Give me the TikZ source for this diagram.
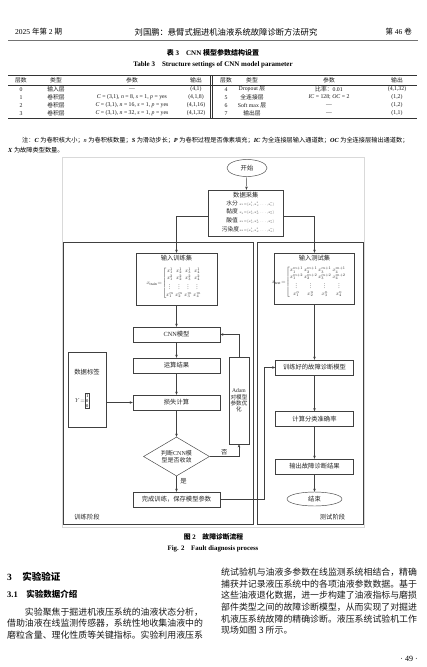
\RequirePackage{fix-cm}
\documentclass[tikz,border=0pt]{standalone}
\usepackage{graphicx}
\usepackage{fontspec}
\setmainfont{Liberation Serif}
\newfontfamily\cjk{Noto Sans CJK SC}
\usetikzlibrary{shapes.geometric,arrows.meta}
\newcommand\zh[1]{{\cjk #1}}
\newcommand\fsz[1]{\fontsize{#1}{#1}\selectfont}
\newcommand\dvec[1]{\scalebox{0.52}{$x_#1\!=\![x_#1^1{,}x_#1^2{,}\ldots{,}x_#1^n]$}}
\tikzset{
  fbox/.style={draw=black!75, line width=0.45pt, inner sep=0pt, font=\cjk\fsz{6.3}, text=black!85},
  ftxt/.style={font=\cjk\fsz{6.3}, text=black!85, inner sep=0pt},
  farr/.style={draw=black!75, line width=0.45pt, -{Stealth[length=3.2pt,width=2.6pt]}},
  tcell/.style={font=\fsz{5.8}, inner sep=0pt, text=black!90},
  body/.style={font=\cjk\fsz{8.9}, anchor=west, inner sep=0pt, text=black!90},
  mat/.style={font=\fontsize{10}{12}\selectfont, inner sep=0pt, text=black!85},
  dline/.style={font=\cjk\fsz{5.8}, inner sep=0pt, text=black!85, anchor=east},
}
\begin{document}
\begin{tikzpicture}[x=1pt,y=-1pt]
\useasboundingbox (0,0) rectangle (427,667);
\fill[white] (0,0) rectangle (427,667);

% ---------- running head ----------
\node[anchor=west, font=\fsz{7.5}, inner sep=0pt] (hl) at (15,32) {2025 \zh{年第} 2 \zh{期}};
\node[font=\cjk\fsz{8.3}, inner sep=0pt] (ht) at (226,32) {刘国鹏：悬臂式掘进机油液系统故障诊断方法研究};
\node[anchor=east, font=\fsz{7.5}, inner sep=0pt] (hr) at (412,32) {\zh{第} 46 \zh{卷}};
\draw[line width=1pt, black!55] (8,40) -- (418,40);

% ---------- table ----------
\node[font=\bfseries\fsz{7}, inner sep=0pt] (tc1) at (213,53) {\zh{表} 3\hspace{1em}CNN \zh{模型参数结构设置}};
\node[font=\bfseries\fsz{7}, inner sep=0pt] (tc2) at (213,65) {Table 3\hspace{1em}Structure settings of CNN model parameter};
\draw[line width=0.8pt, black!80] (8,75.7) -- (417,75.7);
\draw[line width=0.4pt, black!80] (8,85) -- (417,85);
\draw[line width=0.8pt, black!80] (8,118.5) -- (417,118.5);
\draw[line width=0.4pt, black!80] (210.2,75.7) -- (210.2,118.5);
\draw[line width=0.4pt, black!80] (212.6,75.7) -- (212.6,118.5);

\foreach \x/\t [count=\i] in {21/层数,56/类型,132/参数,196/输出,226/层数,252/类型,329/参数,397/输出}
  \node[tcell, font=\cjk\fsz{5.8}] (th\i) at (\x,80) {\t};

\foreach \y/\n/\a/\b/\c/\d/\e/\f/\g/\h in {
  89.3/0/0/{\zh{输入层}}/{---}/{(4,1)}/4/{Dropout \zh{层}}/{\zh{比率：}0.01}/{(4,1,32)},
  97.3/1/1/{\zh{卷积层}}/{\textit{C} = (3,1), \textit{n} = 8, \textit{s} = 1, \textit{p} = yes}/{(4,1,8)}/5/{\zh{全连接层}}/{\textit{IC} = 128; \textit{OC} = 2}/{(1,2)},
  105.3/2/2/{\zh{卷积层}}/{\textit{C} = (3,1), \textit{n} = 16, \textit{s} = 1, \textit{p} = yes}/{(4,1,16)}/6/{Soft max \zh{层}}/{---}/{(1,2)},
  113.3/3/3/{\zh{卷积层}}/{\textit{C} = (3,1), \textit{n} = 32, \textit{s} = 1, \textit{p} = yes}/{(4,1,32)}/7/{\zh{输出层}}/{---}/{(1,1)}}
{
  \node[tcell] (ra\n) at (21,\y) {\a};
  \node[tcell] (rb\n) at (56,\y) {\b};
  \node[tcell] (rc\n) at (132,\y) {\c};
  \node[tcell] (rd\n) at (196,\y) {\d};
  \node[tcell] (re\n) at (226,\y) {\e};
  \node[tcell] (rf\n) at (252,\y) {\f};
  \node[tcell] (rg\n) at (329,\y) {\g};
  \node[tcell] (rh\n) at (397,\y) {\h};
}

\node[anchor=west, font=\fsz{6.2}, inner sep=0pt] (note1) at (22,140) {\zh{注：}\textbf{\textit{C}} \zh{为卷积核大小；}\textit{n} \zh{为卷积核数量；}\textbf{\textit{S}} \zh{为滑动步长；}\textbf{\textit{P}} \zh{为卷积过程是否像素填充；}\textbf{\textit{IC}} \zh{为全连接层输入通道数；}\textbf{\textit{OC}} \zh{为全连接层输出通道数；}};
\node[anchor=west, font=\fsz{6.2}, inner sep=0pt] (note2) at (8,150) {\textbf{\textit{X}} \zh{为故障类型数量。}};

% ---------- figure ----------
\draw[black!15, line width=0.4pt] (62,157) rectangle (364,527);

\node[fbox, minimum width=190pt, minimum height=282pt] (trainph) at (158,383) {};
\node[fbox, minimum width=106pt, minimum height=282pt] (testph) at (310,383) {};
\node[ftxt] (trainL) at (87,517) {训练阶段};
\node[ftxt] (testL) at (332.5,517) {测试阶段};

\node[fbox, ellipse, minimum width=40pt, minimum height=17pt] (start) at (247,168) {开始};
\node[fbox, minimum width=75pt, minimum height=46pt] (collect) at (245.8,213) {};
\node[ftxt] (collectT) at (245.8,195.5) {数据采集};
\node[dline] (c1) at (274,203.3) {水分 \dvec{1}};
\node[dline] (c2) at (274,211.8) {黏度 \dvec{2}};
\node[dline] (c3) at (274,220.5) {酸值 \dvec{3}};
\node[dline] (c4) at (274,229.2) {污染度\dvec{4}};

% training column
\node[fbox, minimum width=81pt, minimum height=52pt] (trin) at (176.5,279) {};
\node[ftxt] (trinT) at (176.5,258.5) {输入训练集};
\node[mat] (trinM) at (174,283) {\scalebox{0.55}{\setlength\arraycolsep{1.6pt}$x_{\mathrm{train}}\!=\!\left[\begin{array}{@{}cccc@{}}
 x_1^1&x_2^1&x_3^1&x_4^1\\ x_1^2&x_2^2&x_3^2&x_4^2\\ \vdots&\vdots&\vdots&\vdots\\ x_1^m&x_2^m&x_3^m&x_4^m\end{array}\right.$}};
\node[fbox, minimum width=87pt, minimum height=15pt] (cnn) at (176.5,334.5) {{\rmfamily CNN}模型};
\node[fbox, minimum width=87pt, minimum height=15pt] (calc) at (176.5,365.5) {运算结果};
\node[fbox, minimum width=87pt, minimum height=15pt] (loss) at (176.5,402.5) {损失计算};
\node[fbox, diamond, aspect=1.7, minimum width=66pt, minimum height=39pt, align=center, font=\cjk\fontsize{6}{7}\selectfont] (judge) at (176.5,456.5) {判断{\rmfamily CNN}模\\型是否收敛};
\node[fbox, minimum width=87pt, minimum height=15pt] (done) at (176.5,499.5) {完成训练，保存模型参数};

\node[fbox, minimum width=38pt, minimum height=75pt] (label) at (87,389.5) {};
\node[ftxt] (labelT) at (87,372) {数据标签};
\node[mat] (labelY) at (80,401) {\scalebox{0.58}{$Y\!=$}};
\node[draw=black!75, line width=0.4pt, inner sep=0.8pt, font=\fontsize{4.5}{5}\selectfont, align=center] (vec) at (87.2,401) {1\\0\\0};

\node[fbox, minimum width=20pt, minimum height=87pt, align=center, font=\cjk\fontsize{5.6}{6.4}\selectfont] (adam) at (239,400.5) {{\rmfamily Adam}\\对模型\\参数优\\化};

% test column
\node[fbox, minimum width=80pt, minimum height=51pt] (tein) at (314.5,278.5) {};
\node[ftxt] (teinT) at (314.5,258.5) {输入测试集};
\node[mat] (teinM) at (309,282) {\scalebox{0.55}{\setlength\arraycolsep{1.2pt}$x_{\mathrm{test}}\!=\!\left[\begin{array}{@{}cccc@{}}
 x_1^{m+1}&x_2^{m+1}&x_3^{m+1}&x_4^{m+1}\\ x_1^{m+2}&x_2^{m+2}&x_3^{m+2}&x_4^{m+2}\\ \vdots&\vdots&\vdots&\vdots\\ x_1^n&x_2^n&x_3^n&x_4^n\end{array}\right.$}};
\node[fbox, minimum width=78pt, minimum height=15pt] (trained) at (314.5,367.5) {训练好的故障诊断模型};
\node[fbox, minimum width=78pt, minimum height=15pt] (acc) at (314.5,419) {计算分类准确率};
\node[fbox, minimum width=78pt, minimum height=15pt] (out) at (314.5,466.5) {输出故障诊断结果};
\node[fbox, ellipse, minimum width=55pt, minimum height=14pt] (end) at (314.5,499) {结束};

\coordinate (bendx) at (264,0);

% connectors
\draw[farr] (start) -- (collect);
\draw[farr] ([yshift=-3.7pt]collect.west) -| (trin.north);
\draw[farr] ([yshift=-3pt]collect.east) -| (tein.north);
\draw[farr] (trin) -- (cnn);
\draw[farr] (cnn) -- (calc);
\draw[farr] (calc) -- (loss);
\draw[farr] (loss) -- (judge);
\draw[farr] (judge) -- (done);
\node[ftxt] (yes) at (183.5,481) {是};
\draw[farr] (judge.east) -| node[pos=0.25, above=1.5pt, ftxt] (no) {否} (adam.south);
\draw[farr] (adam.north) |- (cnn.east);
\draw[farr] (label.east |- loss.west) -- (loss.west);
\draw[farr] (done.east) -- (done.east -| bendx) |- (trained.west);
\draw[farr] (tein) -- (trained);
\draw[farr] (trained) -- (acc);
\draw[farr] (acc) -- (out);
\draw[farr] (out) -- (end);

% ---------- captions ----------
\node[font=\bfseries\fsz{6.8}, inner sep=0pt] (cap1) at (213.5,537) {\zh{图} 2\hspace{1em}\zh{故障诊断流程}};
\node[font=\bfseries\fsz{6.8}, inner sep=0pt] (cap2) at (213,549) {Fig. 2\hspace{1em}Fault diagnosis process};

% ---------- body text ----------
\node[anchor=west, font=\bfseries\fsz{9.5}, inner sep=0pt] (s3) at (7,577) {3\hspace{1.1em}\zh{实验验证}};
\node[anchor=west, font=\bfseries\fsz{8.5}, inner sep=0pt] (s31) at (7,594.5) {3.1\hspace{1em}\zh{实验数据介绍}};
\node[body] (l1) at (7,612) {\hspace*{2em}实验聚焦于掘进机液压系统的油液状态分析，};
\node[body] (l2) at (7,623.5) {借助油液在线监测传感器，系统性地收集油液中的};
\node[body] (l3) at (7,635) {磨粒含量、理化性质等关键指标。实验利用液压系};

\node[body] (r1) at (221,572) {统试验机与油液多参数在线监测系统相结合，精确};
\node[body] (r2) at (221,583.7) {捕获并记录液压系统中的各项油液参数数据。基于};
\node[body] (r3) at (221,595.4) {这些油液退化数据，进一步构建了油液指标与磨损};
\node[body] (r4) at (221,607) {部件类型之间的故障诊断模型，从而实现了对掘进};
\node[body] (r5) at (221,618.7) {机液压系统故障的精确诊断。液压系统试验机工作};
\node[body] (r6) at (221,630.4) {现场如图 3 所示。};
\node[anchor=east, font=\fsz{8}, inner sep=0pt] (pg) at (418,659) {· 49 ·};
\end{tikzpicture}
\end{document}
